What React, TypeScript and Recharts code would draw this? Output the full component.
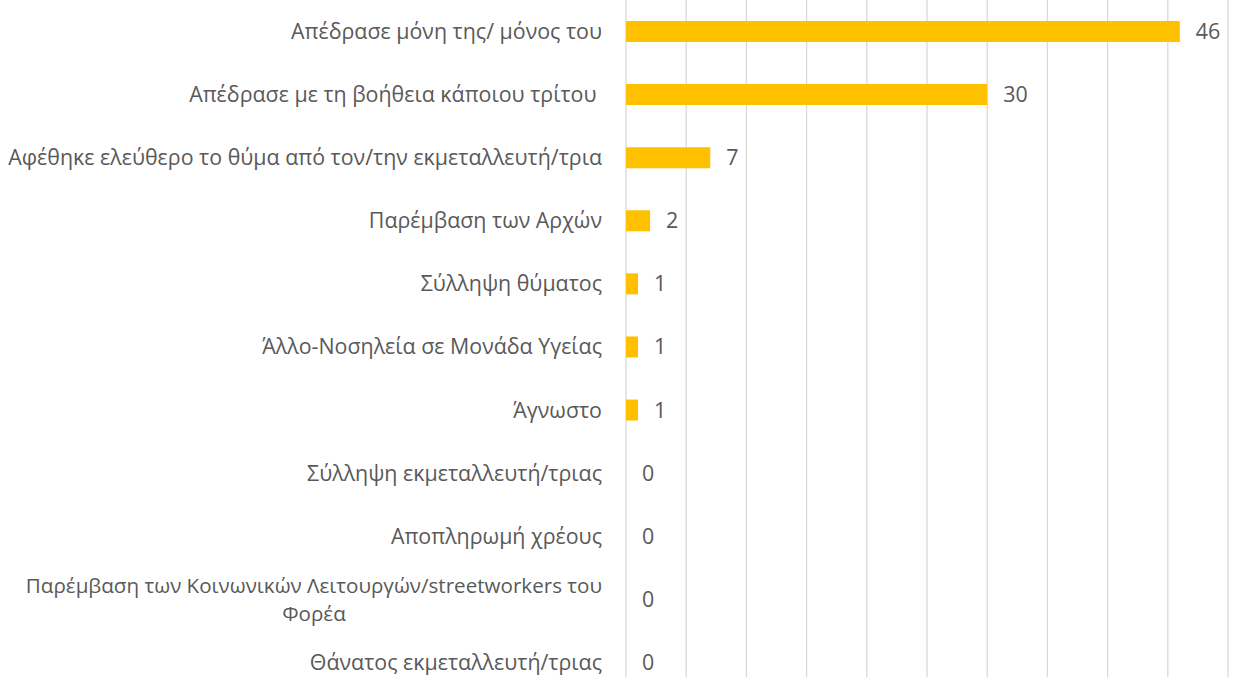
import { Bar, BarChart, CartesianGrid, LabelList, XAxis, YAxis } from 'recharts';

const categories = [
  'Απέδρασε μόνη της/ μόνος του',
  'Απέδρασε με τη βοήθεια κάποιου τρίτου ',
  'Αφέθηκε ελεύθερο το θύμα από τον/την εκμεταλλευτή/τρια',
  'Παρέμβαση των Αρχών',
  'Σύλληψη θύματος',
  'Άλλο-Νοσηλεία σε Μονάδα Υγείας',
  'Άγνωστο',
  'Σύλληψη εκμεταλλευτή/τριας',
  'Αποπληρωμή χρέους',
  'Παρέμβαση των Κοινωνικών Λειτουργών/streetworkers του\nΦορέα',
  'Θάνατος εκμεταλλευτή/τριας',
];
const values = [46, 30, 7, 2, 1, 1, 1, 0, 0, 0, 0];
const xTicks = [0, 5, 10, 15, 20, 25, 30, 35, 40, 45, 50];

const data = categories.map((name, i) => ({ name, value: values[i] }));

const TEXT_COLOR = '#595959';
const BAR_COLOR = '#FFC000';
const GRID_COLOR = '#d9d9d9';
const FONT = '"Open Sans", sans-serif';
const FONT_SIZE = 21.4;
const WRAP_FONT_SIZE = 20.6;

let ctx: CanvasRenderingContext2D | null = null;
function textWidth(s: string, size: number): number {
  if (!ctx) ctx = document.createElement('canvas').getContext('2d');
  if (!ctx) return s.length * 11;
  ctx.font = `${size}px "Open Sans"`;
  return ctx.measureText(s).width;
}

function CategoryTick(props: any) {
  const { x, y, payload } = props;
  const lines: string[] = String(payload.value).split('\n');
  const lineH = 28;
  const tx = x - 16;
  if (lines.length === 1) {
    return (
      <text x={tx} y={y} dy="0.35em" textAnchor="end" fill={TEXT_COLOR} fontSize={FONT_SIZE} fontFamily={FONT} style={{ whiteSpace: 'pre' }}>
        {lines[0]}
      </text>
    );
  }
  // wrapped label: lines centred under the widest one
  const w = Math.max(...lines.map((l) => textWidth(l, WRAP_FONT_SIZE)));
  const cx = tx - w / 2;
  const start = y - ((lines.length - 1) * lineH) / 2;
  return (
    <text textAnchor="middle" fill={TEXT_COLOR} fontSize={WRAP_FONT_SIZE} fontFamily={FONT}>
      {lines.map((l, i) => (
        <tspan key={i} x={cx} y={start + i * lineH} dy="0.35em">
          {l}
        </tspan>
      ))}
    </text>
  );
}

function ValueLabel(props: any) {
  const { x, y, height, value } = props;
  // zero bars get a hair-width via minPointSize; show the real value
  const w = value === 0 ? 0 : Number(props.width || 0);
  return (
    <text
      x={Number(x) + w + 16}
      y={Number(y) + Number(height) / 2}
      dy="0.35em"
      fill={TEXT_COLOR}
      fontSize={FONT_SIZE}
      fontFamily={FONT}
    >
      {value}
    </text>
  );
}

export default function App() {
  return (
    <div style={{ position: 'absolute', left: 0, top: 0, background: '#fff' }}>
      <BarChart
        width={1233}
        height={694}
        data={data}
        layout="vertical"
        margin={{ top: 0, right: 5, bottom: 0, left: 0 }}
        barCategoryGap={0}
      >
        <CartesianGrid vertical horizontal={false} stroke={GRID_COLOR} strokeWidth={1.3} />
        <XAxis
          type="number"
          domain={[0, 50]}
          ticks={xTicks}
          tick={() => <g />}
          axisLine={false}
          tickLine={false}
          height={0}
        />
        <YAxis
          type="category"
          dataKey="name"
          width={626}
          axisLine={false}
          tickLine={false}
          interval={0}
          tick={<CategoryTick />}
        />
        <Bar dataKey="value" fill={BAR_COLOR} barSize={21} minPointSize={0.01} isAnimationActive={false}>
          <LabelList dataKey="value" content={<ValueLabel />} />
        </Bar>
      </BarChart>
    </div>
  );
}
